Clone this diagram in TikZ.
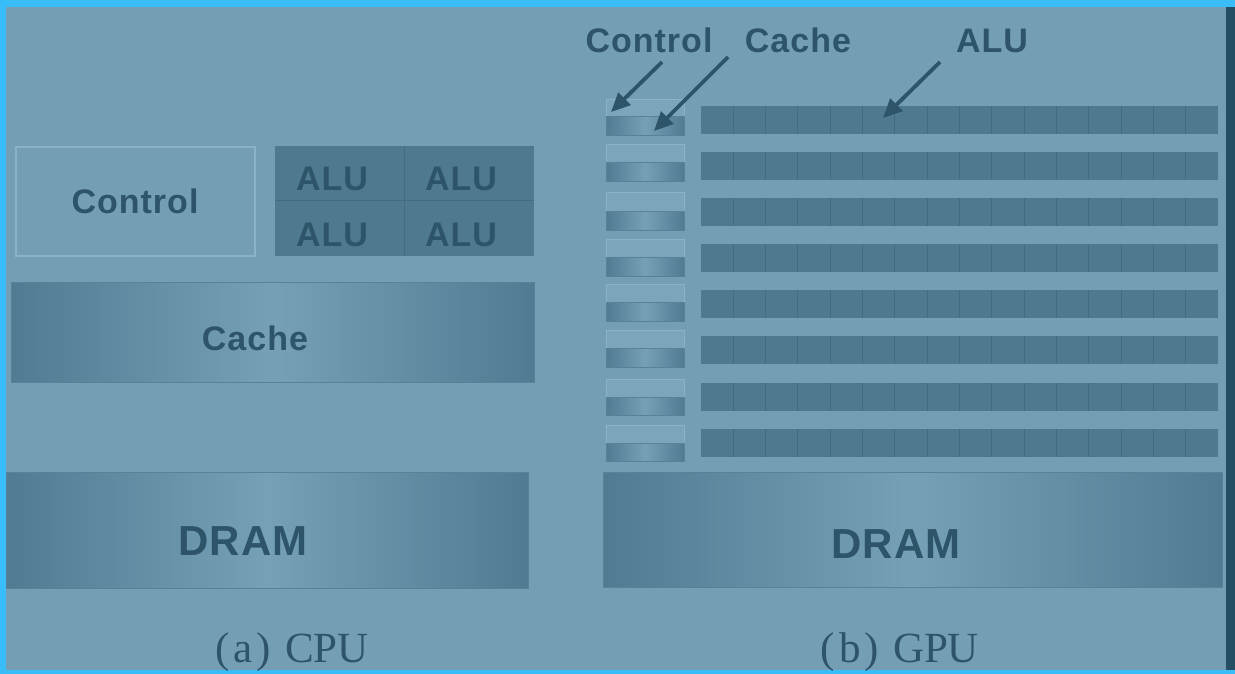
\documentclass[tikz,border=0pt]{standalone}
\usepackage{fontspec}
\setmainfont{Liberation Serif}
\newfontfamily\lsans[LetterSpace=3]{Liberation Sans}
\usetikzlibrary{arrows.meta}
\definecolor{bg}{RGB}{116,158,180}
\definecolor{framec}{RGB}{56,189,248}
\definecolor{darkfill}{RGB}{78,121,143}
\definecolor{cellline}{RGB}{68,107,127}
\definecolor{txt}{RGB}{45,84,104}
\definecolor{lightline}{RGB}{140,178,198}
\definecolor{ctlfill}{RGB}{124,165,187}
\definecolor{gradlight}{RGB}{118,160,182}
\definecolor{graddark}{RGB}{80,123,146}
\definecolor{softline}{RGB}{88,130,152}
\definecolor{navy}{RGB}{36,78,100}
\tikzset{
  lbl/.style={font=\lsans\bfseries\fontsize{34}{40}\selectfont, text=txt, inner sep=0pt, anchor=base},
  biglbl/.style={font=\lsans\bfseries\fontsize{42}{48}\selectfont, text=txt, inner sep=0pt, anchor=base},
  capt/.style={font=\fontsize{43}{48}\selectfont, text=txt, inner sep=0pt, anchor=base},
  ptr/.style={draw=txt, line width=3.8pt, -{Triangle[length=19pt,width=17pt]}},
  gradbox/.style={left color=graddark, right color=graddark, middle color=gradlight},
  outl/.style={draw=softline, line width=1pt}
}
\begin{document}
\begin{tikzpicture}[x=1pt,y=-1pt]
\useasboundingbox (0,0) rectangle (1235,674);
% frame and background
\fill[framec] (0,0) rectangle (1235,674);
\fill[bg] (6,7) rectangle (1235,670);
\fill[navy] (1226,7) rectangle (1235,670);

% ---------- CPU ----------
\draw[lightline, line width=1.2pt, fill=bg] (16,147) rectangle (255,256);
\node[lbl] (cpuctl) at (135,213) {Control};

\fill[darkfill] (275,146) rectangle (534,256);
\draw[cellline, line width=1pt] (404,146) -- (404,256);
\draw[cellline, line width=1pt] (275,201) -- (534,201);
\node[lbl] (alu1) at (332,191) {ALU};
\node[lbl] (alu2) at (461,191) {ALU};
\node[lbl] (alu3) at (332,246) {ALU};
\node[lbl] (alu4) at (461,246) {ALU};

\shade[gradbox] (11,282) rectangle (534,382);
\draw[outl] (11,282) rectangle (534,382);
\node[lbl] (cpucache) at (255,350) {Cache};

\shade[gradbox] (6,472) rectangle (528,588);
\draw[outl] (6,472) rectangle (528,588);
\node[biglbl] (cpudram) at (243,555) {DRAM};

\node[capt] (capa) at (292,662) {(\kern4pt a\kern4pt)\kern14pt CPU};

% ---------- GPU ----------
\foreach \y in {106,152,198,244,290,336,383,429} {
  \fill[darkfill] (701,\y) rectangle (1218,\y+28);
  \foreach \k in {1,...,15}
    \draw[cellline, line width=1pt] (701+\k*32.31,\y) -- (701+\k*32.31,\y+28);
}
\foreach \a/\b/\c in {100/117/136,145/163/182,193/211/230,239/257/276,284/302/321,330/348/367,379/397/415,425/443/461} {
  \draw[lightline, line width=1pt, fill=ctlfill] (606,\a) rectangle (684,\b);
  \shade[gradbox] (606,\b) rectangle (684,\c);
  \draw[outl] (606,\b) rectangle (684,\c);
}

\shade[gradbox] (603,472) rectangle (1222,587);
\draw[outl] (603,472) rectangle (1222,587);
\node[biglbl] (gpudram) at (896,558) {DRAM};

\node[lbl] (gctl) at (649,53) {Control};
\node[lbl] (gcache) at (798,53) {Cache};
\node[lbl] (galu) at (992,53) {ALU};

\coordinate (a1s) at (662,62);
\coordinate (a1e) at (611,112);
\coordinate (a2s) at (728,57);
\coordinate (a2e) at (654,131);
\coordinate (a3s) at (940,62);
\coordinate (a3e) at (883,118);
\draw[ptr] (a1s) -- (a1e);
\draw[ptr] (a2s) -- (a2e);
\draw[ptr] (a3s) -- (a3e);

\node[capt] (capb) at (900,662) {(\kern4pt b\kern4pt)\kern14pt GPU};
\end{tikzpicture}
\end{document}
